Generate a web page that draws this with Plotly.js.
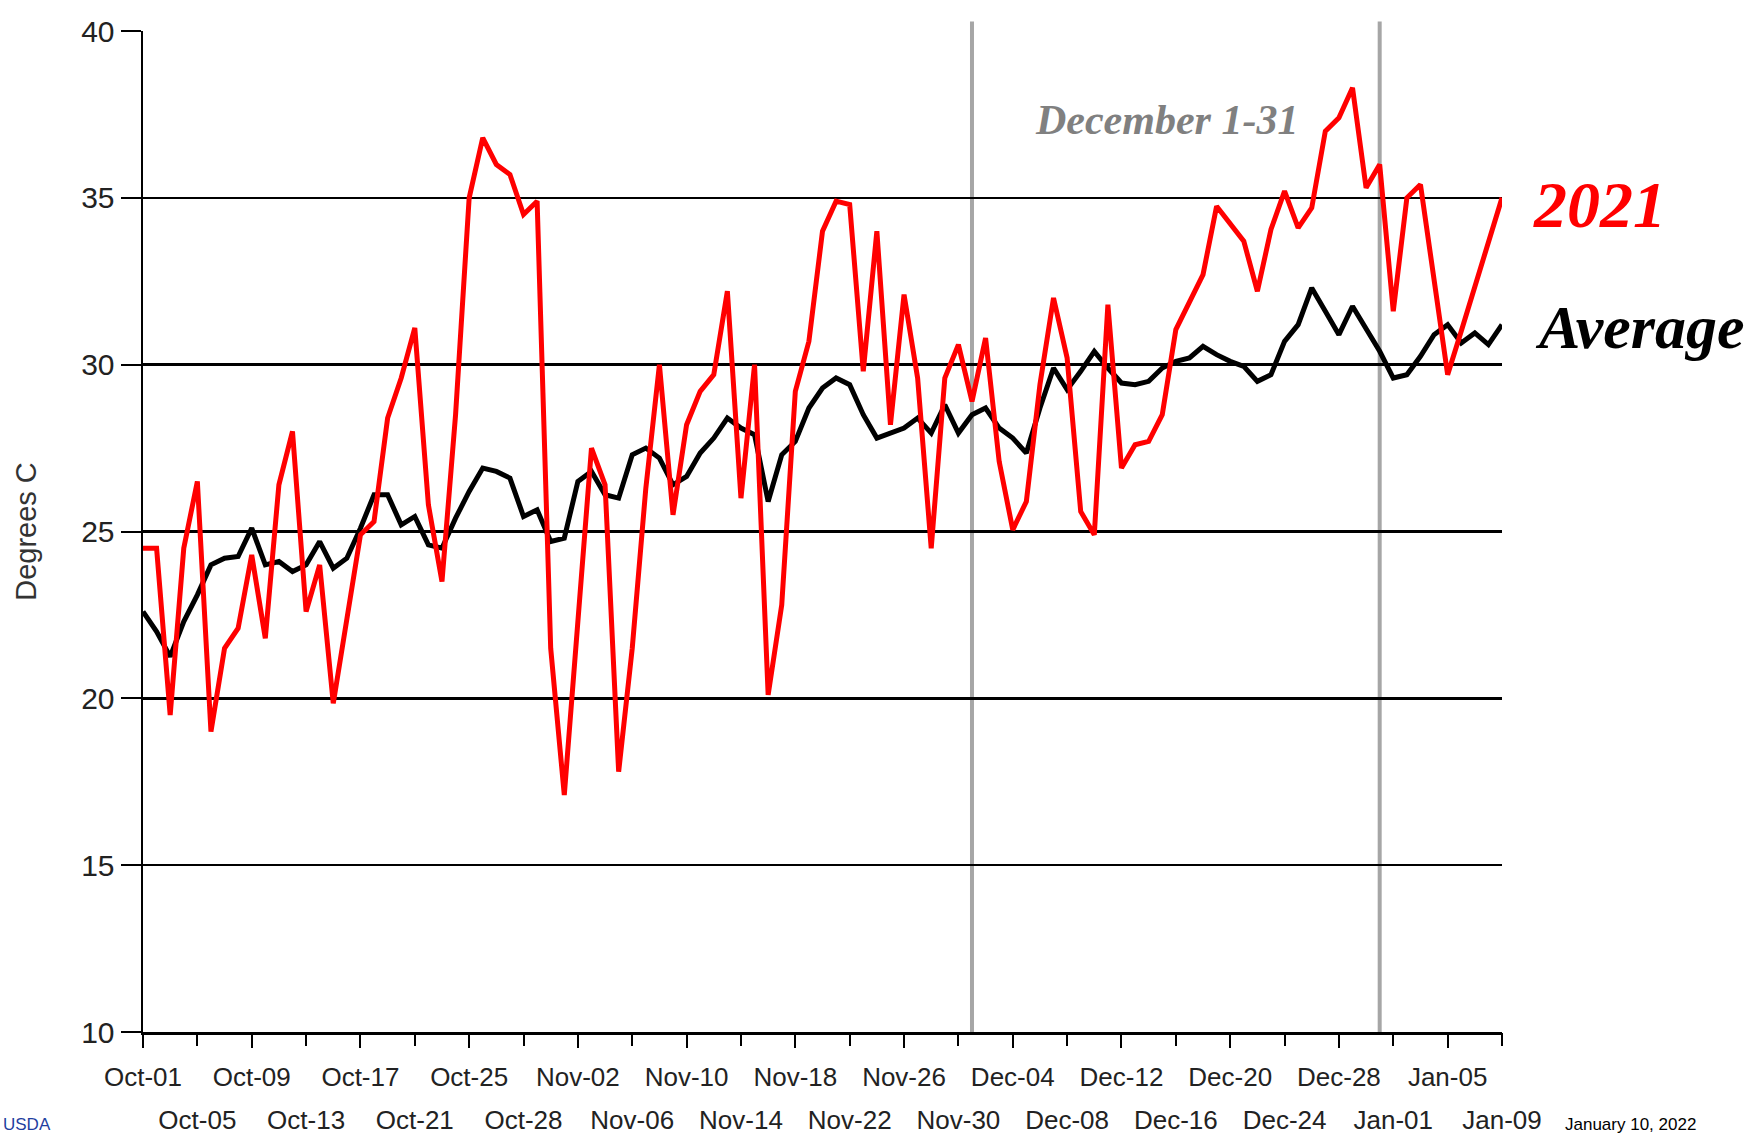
<!DOCTYPE html>
<html>
<head>
<meta charset="utf-8">
<script src="https://cdn.plot.ly/plotly-3.0.1.min.js"></script>
<style>
  html, body { margin: 0; padding: 0; background: #ffffff; }
  #chart { width: 1750px; height: 1137px; }
</style>
</head>
<body>
<div id="chart"></div>
<script>
// ---- data (day index 0 = Oct-01 ... 100 = Jan-09) ----
const temps2021 = [
  24.5, 24.5, 19.5, 24.5, 26.5, 19.0, 21.5, 22.1, 24.3, 21.8,
  26.4, 28.0, 22.6, 24.0, 19.85, 22.4, 24.9, 25.3, 28.4, 29.6,
  31.1, 25.8, 23.5, 28.5, 35.0, 36.8, 36.0, 35.7, 34.5, 34.9,
  21.5, 17.1, 22.3, 27.5, 26.4, 17.8, 21.5, 26.3, 30.0, 25.5,
  28.2, 29.2, 29.7, 32.2, 26.0, 30.0, 20.1, 22.8, 29.2, 30.7,
  34.0, 34.9, 34.8, 29.8, 34.0, 28.2, 32.1, 29.6, 24.5, 29.6,
  30.6, 28.9, 30.8, 27.1, 25.05, 25.9, 29.4, 32.0, 30.2, 25.6,
  24.9, 31.8, 26.9, 27.6, 27.7, 28.5, 31.05, 31.9, 32.7, 34.75,
  34.2, 33.7, 32.2, 34.05, 35.2, 34.1, 34.7, 37.0, 37.4, 38.3,
  35.3, 36.0, 31.6, 35.0, 35.4, 32.6, 29.7, 31.0, 32.3, 33.6,
  35.0
];
const tempsAverage = [
  22.6, 22.0, 21.25, 22.3, 23.1, 24.0, 24.2, 24.25, 25.1, 24.0,
  24.1, 23.8, 24.0, 24.7, 23.9, 24.2, 25.1, 26.1, 26.1, 25.2,
  25.45, 24.6, 24.5, 25.4, 26.2, 26.9, 26.8, 26.6, 25.45, 25.65,
  24.7, 24.8, 26.5, 26.8, 26.1, 26.0, 27.3, 27.5, 27.2, 26.4,
  26.65, 27.35, 27.8, 28.4, 28.1, 27.9, 25.9, 27.3, 27.7, 28.7,
  29.3, 29.6, 29.4, 28.5, 27.8, 27.95, 28.1, 28.4, 27.95, 28.8,
  27.95, 28.5, 28.7, 28.1, 27.8, 27.35, 28.7, 29.9, 29.25, 29.8,
  30.4, 29.9, 29.45, 29.4, 29.5, 29.9, 30.1, 30.2, 30.55, 30.3,
  30.1, 29.95, 29.5, 29.7, 30.7, 31.2, 32.3, 31.6, 30.9, 31.75,
  31.05, 30.4, 29.6, 29.7, 30.25, 30.9, 31.2, 30.65, 30.95, 30.6,
  31.2
];
// tick labels, one every 4 days (first row / second row alternate)
const tickLabels = [
  "Oct-01","Oct-05","Oct-09","Oct-13","Oct-17","Oct-21","Oct-25","Oct-28",
  "Nov-02","Nov-06","Nov-10","Nov-14","Nov-18","Nov-22","Nov-26","Nov-30",
  "Dec-04","Dec-08","Dec-12","Dec-16","Dec-20","Dec-24","Dec-28","Jan-01",
  "Jan-05","Jan-09"
];
const tickStepDays = 4;
// December 1-31 boundaries (day index from Oct-01)
const decemberBounds = [61, 91];
const yTicks = [10, 15, 20, 25, 30, 35, 40];

// ---- build ----
const days = temps2021.map((_, i) => i);
const tickPos = tickLabels.map((_, i) => i * tickStepDays);
const row1Vals = tickPos.filter((_, i) => i % 2 === 0);
const row1Text = tickLabels.filter((_, i) => i % 2 === 0);
const row2Vals = tickPos.filter((_, i) => i % 2 === 1);
const row2Text = tickLabels.filter((_, i) => i % 2 === 1);

const sansNarrow = "Liberation Sans Narrow, Arial Narrow, Liberation Sans, Arial, sans-serif";
const tickFont = { family: sansNarrow, size: 26, color: "#222222" };

const traces = [
  {
    x: days, y: tempsAverage, type: "scatter", mode: "lines", name: "Average",
    line: { color: "#000000", width: 5 }, xaxis: "x", yaxis: "y", hoverinfo: "skip"
  },
  {
    x: days, y: temps2021, type: "scatter", mode: "lines", name: "2021",
    line: { color: "#ff0000", width: 5 }, xaxis: "x2", yaxis: "y", hoverinfo: "skip"
  }
];

const xCommon = {
  range: [0, days.length - 1], fixedrange: true, showgrid: false, zeroline: false,
  ticks: "outside", ticklen: 13, tickwidth: 2, tickcolor: "#000000",
  tickmode: "array", tickfont: tickFont, tickangle: 0
};

const shapes = decemberBounds.map(d => ({
  type: "line", xref: "x", yref: "paper", x0: d, x1: d, y0: 0, y1: 1.0095,
  line: { color: "#a6a6a6", width: 4 }, layer: "below"
}));

const serif = "Liberation Serif, Times New Roman, serif";
const layout = {
  width: 1750, height: 1137,
  margin: { l: 143, r: 248, t: 31, b: 105 },
  paper_bgcolor: "#ffffff", plot_bgcolor: "#ffffff",
  showlegend: false,
  xaxis: Object.assign({}, xCommon, {
    tickvals: row1Vals, ticktext: row1Text, ticklabelstandoff: 7,
    showline: true, linecolor: "#000000", linewidth: 3, anchor: "y", side: "bottom"
  }),
  xaxis2: Object.assign({}, xCommon, {
    tickvals: row2Vals, ticktext: row2Text, ticklabelstandoff: 52,
    overlaying: "x", anchor: "y", side: "bottom", showline: false
  }),
  yaxis: {
    range: [10, 40], fixedrange: true, tickmode: "array", tickvals: yTicks,
    showgrid: true, gridcolor: "#000000", gridwidth: 2.5, zeroline: false,
    showline: true, linecolor: "#000000", linewidth: 2.5,
    ticks: "outside", ticklen: 20, tickwidth: 2, tickcolor: "#000000",
    tickfont: { family: sansNarrow, size: 30, color: "#222222" },
    title: { text: "Degrees C", font: { family: "Liberation Sans, Arial, sans-serif", size: 29, color: "#333333" }, standoff: 36 }
  },
  shapes: shapes,
  annotations: [
    { text: "December 1-31", xref: "paper", yref: "paper", x: 0.7528, y: 0.911, xanchor: "center", yanchor: "middle",
      showarrow: false, font: { family: serif, size: 42, color: "#808080", weight: "bold", style: "italic" } },
    { text: "2021", xref: "paper", yref: "paper", x: 1.072, y: 0.827, xanchor: "center", yanchor: "middle",
      showarrow: false, font: { family: serif, size: 66, color: "#ff0000", weight: "bold", style: "italic" } },
    { text: "Average", xref: "paper", yref: "paper", x: 1.1015, y: 0.704, xanchor: "center", yanchor: "middle",
      showarrow: false, font: { family: serif, size: 62, color: "#000000", weight: "bold", style: "italic" } },
    { text: "USDA", xref: "paper", yref: "paper", x: -0.1045, y: -0.1043, xanchor: "left", yanchor: "bottom",
      showarrow: false, font: { family: "Liberation Sans, Arial, sans-serif", size: 17, color: "#1f3f9f" } },
    { text: "January 10, 2022", xref: "paper", yref: "paper", x: 1.0449, y: -0.1043, xanchor: "left", yanchor: "bottom",
      showarrow: false, font: { family: "Liberation Sans, Arial, sans-serif", size: 17, color: "#000000" } }
  ]
};

Plotly.newPlot("chart", traces, layout, { staticPlot: true, displayModeBar: false });
</script>
</body>
</html>
